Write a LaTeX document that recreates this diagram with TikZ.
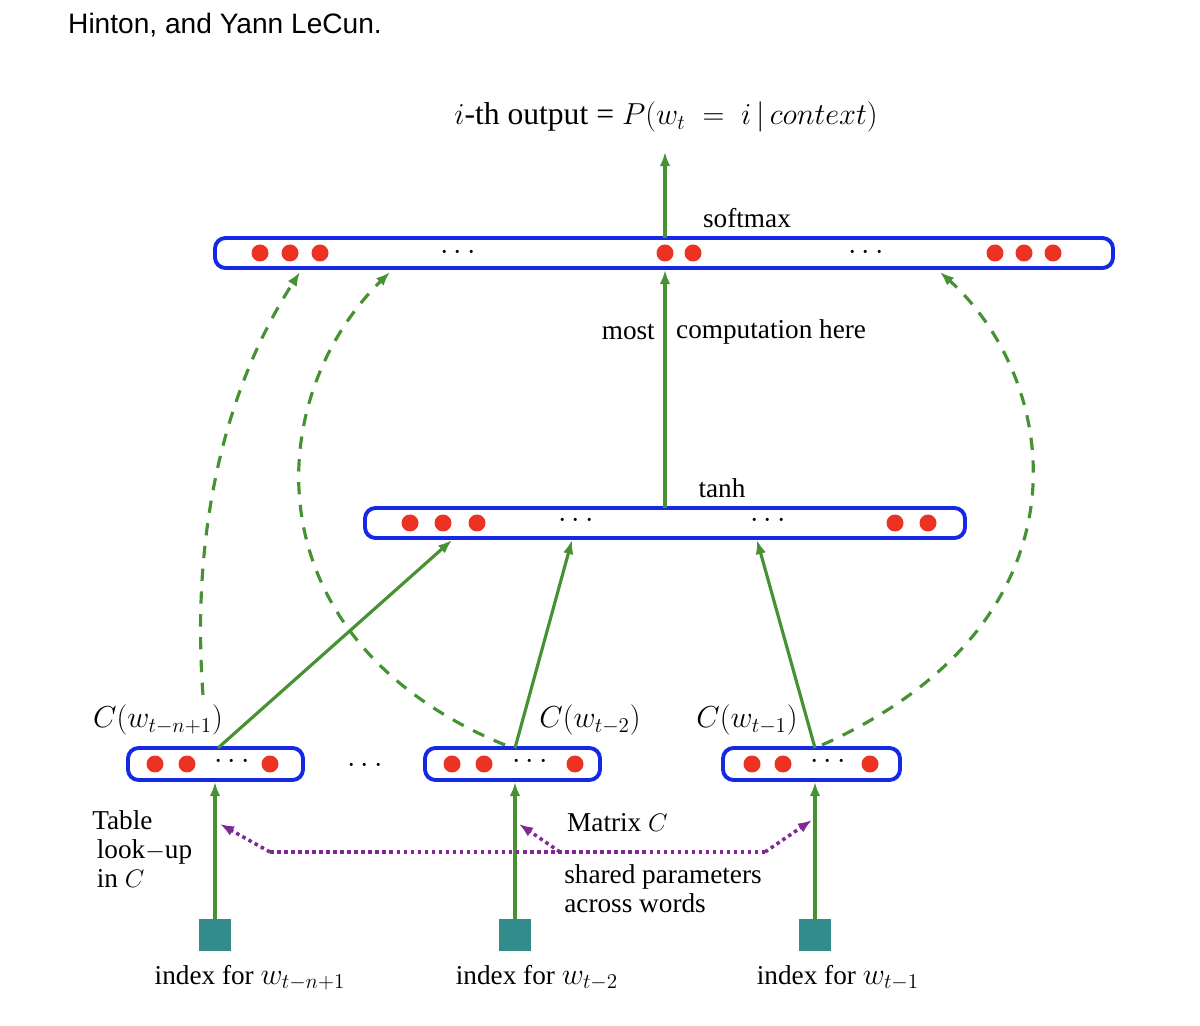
\documentclass[tikz,border=0pt]{standalone}
\usepackage{fontspec}
\setmainfont{Liberation Serif}
\newfontfamily\sansf{Liberation Sans}
\usetikzlibrary{arrows.meta}
\definecolor{gr}{RGB}{70,145,50}
\definecolor{bl}{RGB}{20,40,230}
\definecolor{rd}{RGB}{235,50,35}
\definecolor{tl}{RGB}{50,140,140}
\definecolor{pu}{RGB}{130,40,150}
\begin{document}
\begin{tikzpicture}[x=0.02cm,y=-0.02cm,
 box/.style={draw=bl,line width=2.2pt,rounded corners=6pt},
 dot/.style={circle,fill=rd,inner sep=0,minimum size=0.34cm},
 ar/.style={draw=gr,line width=1.8pt,-{Latex[length=8pt,width=6pt]}},
 da/.style={draw=gr,line width=1.8pt,dash pattern=on 7pt off 6pt,-{Latex[length=8pt,width=6pt]}},
 pa/.style={draw=pu,line width=2pt,dotted,-{Latex[length=8pt,width=6pt]}},
 sq/.style={fill=tl,inner sep=0,minimum size=0.64cm},
 t/.style={font=\fontsize{15.5}{17.5}\selectfont},
 dd/.style={font=\fontsize{16}{18}\selectfont}]
\useasboundingbox (0,0) rectangle (1200,1026);
\node[anchor=west,font=\sansf\fontsize{16}{18}\selectfont] (hdr) at (62,25) {Hinton, and Yann LeCun.};
\node[t] (out) at (666,117) {\fontsize{18}{20}\selectfont $i$-th output = $P(w_t\;=\;i\,|\,context)$};
% boxes
\draw[box] (215,238) rectangle (1113,268);
\draw[box] (365,508) rectangle (965,538);
\draw[box] (128,748) rectangle (303,780);
\draw[box] (425,748) rectangle (600,780);
\draw[box] (723,748) rectangle (900,780);
\foreach \x in {260,290,320,665,693,995,1024,1053} \node[dot] at (\x,253) {};
\foreach \x in {410,443,477,895,928} \node[dot] at (\x,523) {};
\foreach \x in {155,187,270,452,484,575,752,783,870} \node[dot] at (\x,764) {};
\foreach \x/\y in {458/253,866/253,576/521,768/521,232/762,530/762,828/762,365/766}
  \node[dd] at (\x,\y) {$\cdots$};
\node[t] (sm) at (747,218) {softmax};
\node[t] (th) at (722,488) {tanh};
\node[t,anchor=east] (most) at (661,332) {most};
\node[t,anchor=west] (comp) at (670,332) {computation here};
\coordinate (so) at (665,238); \coordinate (st) at (665,152);
\draw[ar] (so) -- (st);
\coordinate (tt) at (665,508); \coordinate (sb) at (665,270);
\draw[ar] (tt) -- (sb);
% C labels
\node[t] (c1) at (158,720) {\fontsize{18}{20}\selectfont $C(w_{t-n+1})$};
\node[t] (c2) at (590,720) {\fontsize{18}{20}\selectfont $C(w_{t-2})$};
\node[t] (c3) at (747,720) {\fontsize{18}{20}\selectfont $C(w_{t-1})$};
% green arrows
\coordinate (b1) at (218,748); \coordinate (b2) at (515,748); \coordinate (b3) at (815,748);
\draw[ar] (b1) -- (452,540);
\draw[ar] (b2) -- (572,540);
\draw[ar] (b3) -- (757,540);
% dashed
\coordinate (d1) at (203,695);
\draw[da] (d1) .. controls (190,520) and (230,380) .. (300,272);
\draw[da] (505,745) .. controls (250,640) and (260,400) .. (390,272);
\draw[da] (822,745) .. controls (1100,620) and (1060,380) .. (940,272);
% squares
\node[sq] (s1) at (215,935) {};
\node[sq] (s2) at (515,935) {};
\node[sq] (s3) at (815,935) {};
\draw[ar] (s1.north) -- (215,782);
\draw[ar] (s2.north) -- (515,782);
\draw[ar] (s3.north) -- (815,782);
% purple
\draw[pu,line width=2pt,dotted] (270,852) -- (765,852);
\draw[pa] (270,852) -- (220,824);
\draw[pa] (765,852) -- (812,820);
\draw[pa] (560,852) -- (519,824);
% texts
\node[t,anchor=north west,align=left,inner sep=0] (tab) at (92,810) {Table\\[-1pt] \,look$-$up\\[-1pt] \,in $C$};
\node[t,anchor=west] (mat) at (561,823) {Matrix $C$};
\node[t,anchor=north west,align=left,inner sep=0] (shp) at (564,864) {shared parameters\\[-1pt]across words};
\node[t] (i1) at (250,978) {index for {\fontsize{18}{20}\selectfont $w_{t-n+1}$}};
\node[t] (i2) at (537,978) {index for {\fontsize{18}{20}\selectfont $w_{t-2}$}};
\node[t] (i3) at (838,978) {index for {\fontsize{18}{20}\selectfont $w_{t-1}$}};
\end{tikzpicture}
\end{document}
